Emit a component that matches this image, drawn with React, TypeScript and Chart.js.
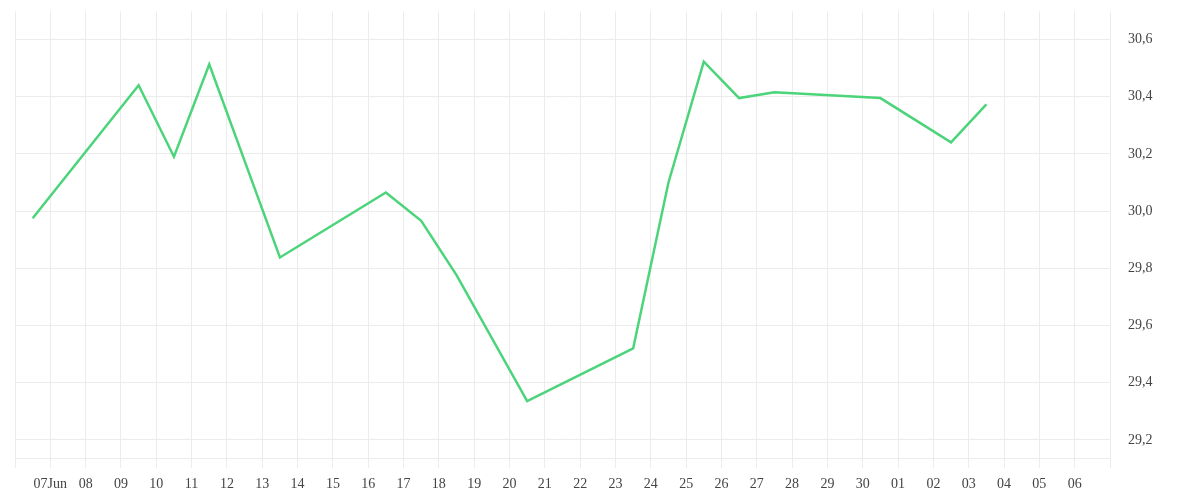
import React, { useEffect, useRef } from "react";
import { Chart, registerables } from "chart.js";

Chart.register(...registerables);

const startDate = "2024-06-06";
const endDate = "2024-07-07";
const dates = [
  "2024-06-06T12:00", "2024-06-09T12:00", "2024-06-10T12:00", "2024-06-11T12:00",
  "2024-06-13T12:00", "2024-06-16T12:00", "2024-06-17T12:00", "2024-06-18T12:00",
  "2024-06-20T12:00", "2024-06-23T12:00", "2024-06-24T12:00", "2024-06-25T12:00",
  "2024-06-26T12:00", "2024-06-27T12:00", "2024-06-30T12:00", "2024-07-02T12:00",
  "2024-07-03T12:00",
];
const values = [
  29.975, 30.44, 30.19, 30.513,
  29.838, 30.065, 29.966, 29.776,
  29.336, 29.52, 30.1, 30.522,
  30.395, 30.415, 30.395, 30.24,
  30.373,
];
const monthNames = ["Jan", "Feb", "Mar", "Apr", "May", "Jun", "Jul", "Aug", "Sep", "Oct", "Nov", "Dec"];
const yMin = 29.137;
const yMax = 30.698;
const yStep = 0.2;

const DAY = 86400000;
const toMs = (s: string) => {
  const [d, t] = s.split("T");
  const [y, m, dd] = d.split("-").map(Number);
  let h = 0, mi = 0;
  if (t) [h, mi] = t.split(":").map(Number);
  return Date.UTC(y, m - 1, dd, h, mi);
};
const origin = toMs(startDate);
const xMax = (toMs(endDate) - origin) / DAY;

export default function App() {
  const ref = useRef<HTMLCanvasElement>(null);
  useEffect(() => {
    if (!ref.current) return;
    const font = { family: "'Liberation Serif', serif", size: 14 };
    const chart = new Chart(ref.current, {
      type: "line",
      data: {
        datasets: [
          {
            data: dates.map((d, i) => ({ x: (toMs(d) - origin) / DAY, y: values[i] })),
            borderColor: "#4cd47b",
            borderWidth: 2.5,
            pointRadius: 0,
            tension: 0,
            fill: false,
          },
        ],
      },
      options: {
        animation: false,
        responsive: true,
        maintainAspectRatio: false,
        layout: { padding: { left: 15, top: 0, right: 0, bottom: 0 } },
        plugins: { legend: { display: false }, tooltip: { enabled: false } },
        scales: {
          x: {
            type: "linear",
            min: 0,
            max: xMax,
            afterFit: (s: any) => { s.height = 42; },
            grid: { color: "#ececec", lineWidth: 1, drawTicks: true, tickLength: 10 },
            border: { display: true, color: "#ececec" },
            ticks: {
              stepSize: 1,
              autoSkip: false,
              maxRotation: 0,
              padding: 8,
              color: "#444",
              font,
              callback: (v: any, i: number, ticks: any[]) => {
                if (i === 0 || i === ticks.length - 1) return "";
                const dt = new Date(origin + Number(v) * DAY);
                const dd = String(dt.getUTCDate()).padStart(2, "0");
                return i === 1 ? dd + monthNames[dt.getUTCMonth()] : dd;
              },
            },
          },
          y: {
            position: "right",
            min: yMin,
            max: yMax,
            afterFit: (s: any) => { s.width = 90; },
            grid: { color: "#ececec", lineWidth: 1, drawTicks: true, tickLength: 15, tickColor: "rgba(0,0,0,0)" },
            border: { display: false },
            ticks: {
              stepSize: yStep,
              includeBounds: false,
              padding: 3,
              color: "#444",
              font,
              callback: (v: any) => Number(v).toFixed(1).replace(".", ","),
            },
          },
        },
      },
    });
    return () => chart.destroy();
  }, []);
  return (
    <div style={{ position: "fixed", left: 0, top: 0, width: 1200, height: 500, background: "#fff" }}>
      <canvas ref={ref} />
    </div>
  );
}
